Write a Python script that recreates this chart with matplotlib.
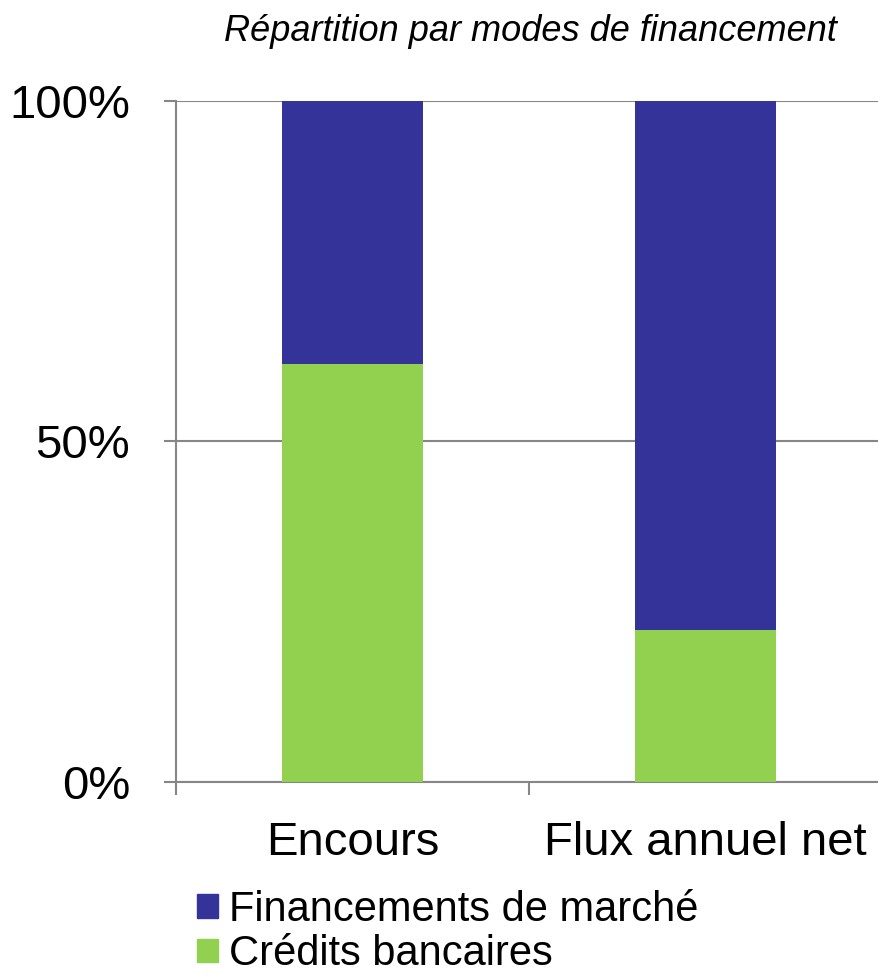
import numpy as np
import matplotlib.pyplot as plt
from matplotlib.patches import Patch

plt.rcParams['font.family'] = ['Liberation Sans', 'DejaVu Sans']

# data (shares in %)
categories = ["Encours", "Flux annuel net"]
credits_bancaires = [61.4, 22.3]
financements_marche = [38.6, 77.7]

green = "#92d050"
blue = "#333399"
grey = "#868686"

fig = plt.figure(figsize=(8.79, 9.76), dpi=100)
ax = fig.add_axes([0.2002, 0.1988, 0.8032, 0.6977])

x = np.arange(len(categories))
ax.bar(x, credits_bancaires, width=0.40, color=green, zorder=3)
ax.bar(x, financements_marche, width=0.40, bottom=credits_bancaires, color=blue, zorder=3)

ax.set_xlim(-0.5, 1.5)
ax.set_ylim(0, 100)
ax.set_yticks([0, 50, 100])
ax.set_yticklabels(["0%", "50%", "100%"], fontsize=34)
ax.yaxis.grid(True, color=grey, linewidth=1.5, zorder=0)

ax.set_xticks(x)
ax.set_xticklabels(categories, fontsize=34)
ax.set_xticks([-0.5, 0.5, 1.5], minor=True)
ax.tick_params(axis='x', which='major', length=0, pad=28)
ax.tick_params(axis='x', which='minor', length=9, width=1.5, color=grey)
ax.tick_params(axis='y', length=9, width=1.5, color=grey, pad=24)

for s in ["top", "right"]:
    ax.spines[s].set_visible(False)
for s in ["left", "bottom"]:
    ax.spines[s].set_color(grey)
    ax.spines[s].set_linewidth(1.5)

fig.text(0.603, 0.968, "Répartition par modes de financement", fontsize=26,
         style='italic', ha='center', va='center')

handles = [Patch(color=blue, label="Financements de marché"),
           Patch(color=green, label="Crédits bancaires")]
fig.legend(handles=handles, loc='upper left', bbox_to_anchor=(0.224, 0.088),
           frameon=False, fontsize=30, handlelength=0.5, handleheight=0.5,
           handletextpad=0.27, labelspacing=0.1, borderpad=0, borderaxespad=0)

fig.savefig("out.png", dpi=100)
